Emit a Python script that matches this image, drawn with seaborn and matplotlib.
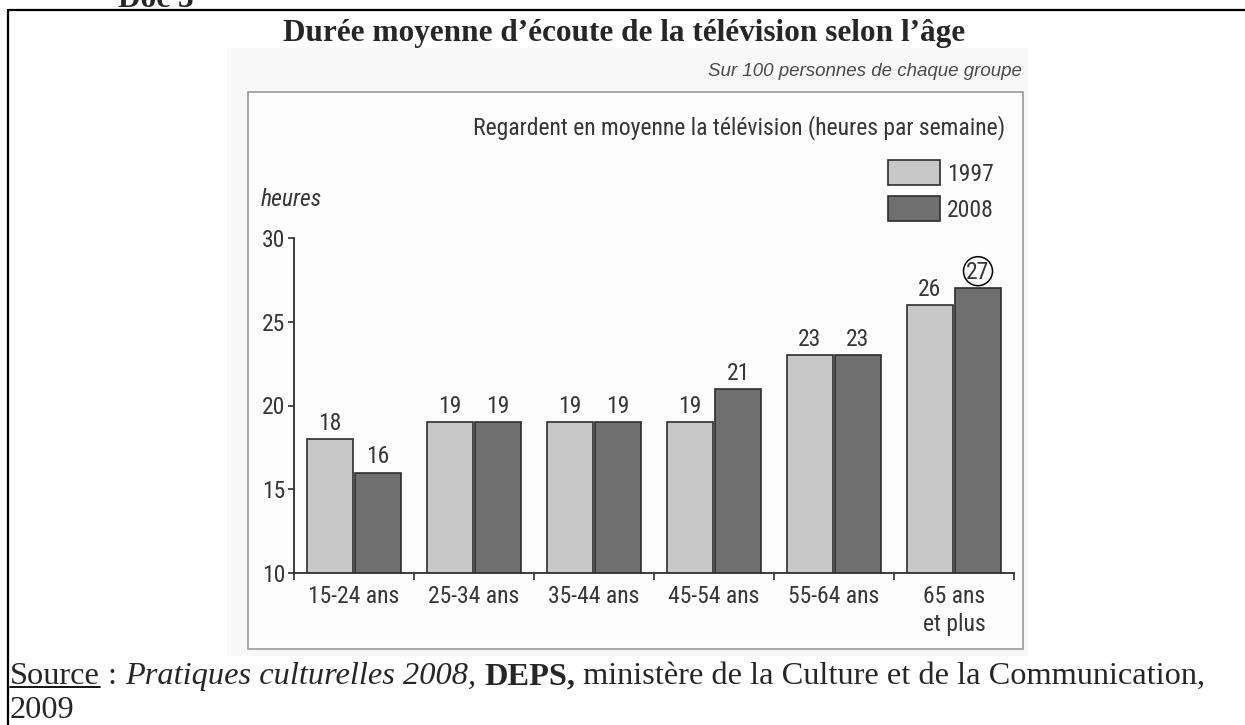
import pandas as pd
import matplotlib
matplotlib.use('Agg')
import matplotlib.pyplot as plt
import matplotlib.patches as mpatches
import matplotlib.transforms as mtransforms
from matplotlib import font_manager
from matplotlib.lines import Line2D
import seaborn as sns

# data
ages = ['15-24 ans', '25-34 ans', '35-44 ans', '45-54 ans', '55-64 ans', '65 ans\net plus']
years = ['1997', '2008']
h1997 = [18, 19, 19, 19, 23, 26]
h2008 = [16, 19, 19, 21, 23, 27]
yticks = [10, 15, 20, 25, 30]

df = pd.DataFrame({
    'age': ages * 2,
    'annee': [years[0]] * len(ages) + [years[1]] * len(ages),
    'heures': h1997 + h2008,
})

sns.set_style('white')

# condensed sans for the chart itself (scan uses a narrow grotesque)
installed = {f.name for f in font_manager.fontManager.ttflist}
narrow = next((n for n in ['Liberation Sans Narrow', 'Roboto Condensed', 'Arial Narrow']
               if n in installed), None)
fs = 17
if narrow is None:
    narrow = 'Roboto'
    fs = 14
plt.rcParams['font.family'] = [narrow, 'DejaVu Sans']
serif = ['Liberation Serif', 'DejaVu Serif']
text_c = '#363636'

W, H = 1245, 725


def fx(px):
    return px / W


def fy(py):
    return 1 - py / H


fig = plt.figure(figsize=(W / 100, H / 100), dpi=100)
fig.patch.set_facecolor('white')

# scanned page look: faint grey scan area + light chart frame
fig.add_artist(mpatches.Rectangle((fx(227), fy(656)), fx(1028) - fx(227), fy(48) - fy(656),
                                  transform=fig.transFigure, fc='#f8f8f8', ec='none', zorder=-3))
fig.add_artist(mpatches.Rectangle((fx(248), fy(649)), fx(1023) - fx(248), fy(92) - fy(649),
                                  transform=fig.transFigure, fc='#fdfdfd', ec='#9a9a9a', lw=1.2, zorder=-2))

# outer document frame (only top and left edges visible)
fig.add_artist(Line2D([fx(8), 1], [fy(10), fy(10)], transform=fig.transFigure, color='black', lw=1.6))
fig.add_artist(Line2D([fx(8), fx(8)], [fy(10), 0], transform=fig.transFigure, color='black', lw=1.6))

ax = fig.add_axes([fx(294), fy(573), (1014 - 294) / W, (573 - 238) / H])
ax.patch.set_alpha(0)

sns.barplot(data=df, x='age', y='heures', hue='annee', palette=['#c8c8c8', '#6f6f6f'],
            width=0.8, gap=0.06, edgecolor='#2e2e2e', linewidth=1.2, saturation=1,
            ax=ax, zorder=2)

ax.set_xlim(-0.5, len(ages) - 0.5)
ax.set_ylim(10, 30)
ax.set_yticks(yticks)
ax.set_xticks(range(len(ages)))
ax.set_xticklabels(ages)
ax.set_xticks([i - 0.5 for i in range(len(ages) + 1)], minor=True)
ax.set_xlabel('')
ax.set_ylabel('')
sns.despine(ax=ax)
for s in ['left', 'bottom']:
    ax.spines[s].set_color('#2e2e2e')
    ax.spines[s].set_linewidth(1.3)

ax.tick_params(axis='x', which='major', bottom=True, length=0, pad=8.5,
               labelsize=fs, labelcolor=text_c)
ax.tick_params(axis='x', which='minor', bottom=True, length=5, width=1.2,
               color='#2e2e2e', direction='out')
ax.tick_params(axis='y', left=True, length=4.3, width=1.2, color='#2e2e2e',
               direction='out', pad=2, labelsize=fs, labelcolor=text_c)
for t in ax.get_xticklabels():
    t.set_linespacing(1.3)

labels = []
for c in ax.containers:
    labels.append(ax.bar_label(c, fmt='%d', padding=3, fontsize=fs, color=text_c))

ax.legend_.remove()
handles, names = ax.get_legend_handles_labels()
leg = ax.legend(handles, names, loc='upper left', bbox_to_anchor=(fx(888), fy(160)),
                bbox_transform=fig.transFigure, frameon=False, fontsize=fs,
                handlelength=2.2, handleheight=1.27, handletextpad=0.3,
                labelspacing=0.45, borderpad=0, borderaxespad=0)
for t in leg.get_texts():
    t.set_color(text_c)

fig.text(fx(261), fy(199), 'heures', style='italic', size=fs, color=text_c,
         ha='left', va='center')
fig.text(fx(1005), fy(128), 'Regardent en moyenne la télévision (heures par semaine)',
         size=fs, color=text_c, ha='right', va='center')
fig.text(fx(1022), fy(71), 'Sur 100 personnes de chaque groupe', style='italic',
         family=['Liberation Sans', 'DejaVu Sans'], size=13.5, color='#4a4a4a',
         ha='right', va='center')

# document texts
fig.text(fx(118), fy(7), 'Doc 3', family=serif, weight='bold', size=22.5,
         ha='left', va='baseline')
fig.text(fx(624), fy(33), 'Durée moyenne d’écoute de la télévision selon l’âge',
         family=serif, weight='bold', size=22.5, ha='center', va='center')

fig.canvas.draw()
renderer = fig.canvas.get_renderer()

pieces = [
    ('Source', {}),
    (' : ', {}),
    ('Pratiques culturelles 2008,', {'style': 'italic'}),
    (' ', {}),
    ('DEPS,', {'weight': 'bold'}),
    (' ministère de la Culture et de la Communication,', {}),
]
src_fs = 23.3
x = 10
base = 684
for i, (s, kw) in enumerate(pieces):
    t = fig.text(fx(x), fy(base), s, family=serif, size=src_fs, ha='left', va='baseline', **kw)
    bb = t.get_window_extent(renderer)
    if i == 0:
        fig.add_artist(Line2D([bb.x0 / W, bb.x1 / W], [fy(base + 3), fy(base + 3)],
                              transform=fig.transFigure, color='black', lw=1.3))
    x = bb.x1
fig.text(fx(10), fy(718), '2009', family=serif, size=src_fs, ha='left', va='baseline')

# circle drawn round the 27 label
fig.canvas.draw()
lab = labels[1][-1]
bb = lab.get_window_extent(renderer)
cx = (bb.x0 + bb.x1) / 2
cy = bb.y0 + 0.56 * bb.height
fig.add_artist(mpatches.Circle((cx, cy), 14.5, transform=mtransforms.IdentityTransform(),
                               fill=False, ec='black', lw=1.1))

fig.savefig('out.png', dpi=100)
